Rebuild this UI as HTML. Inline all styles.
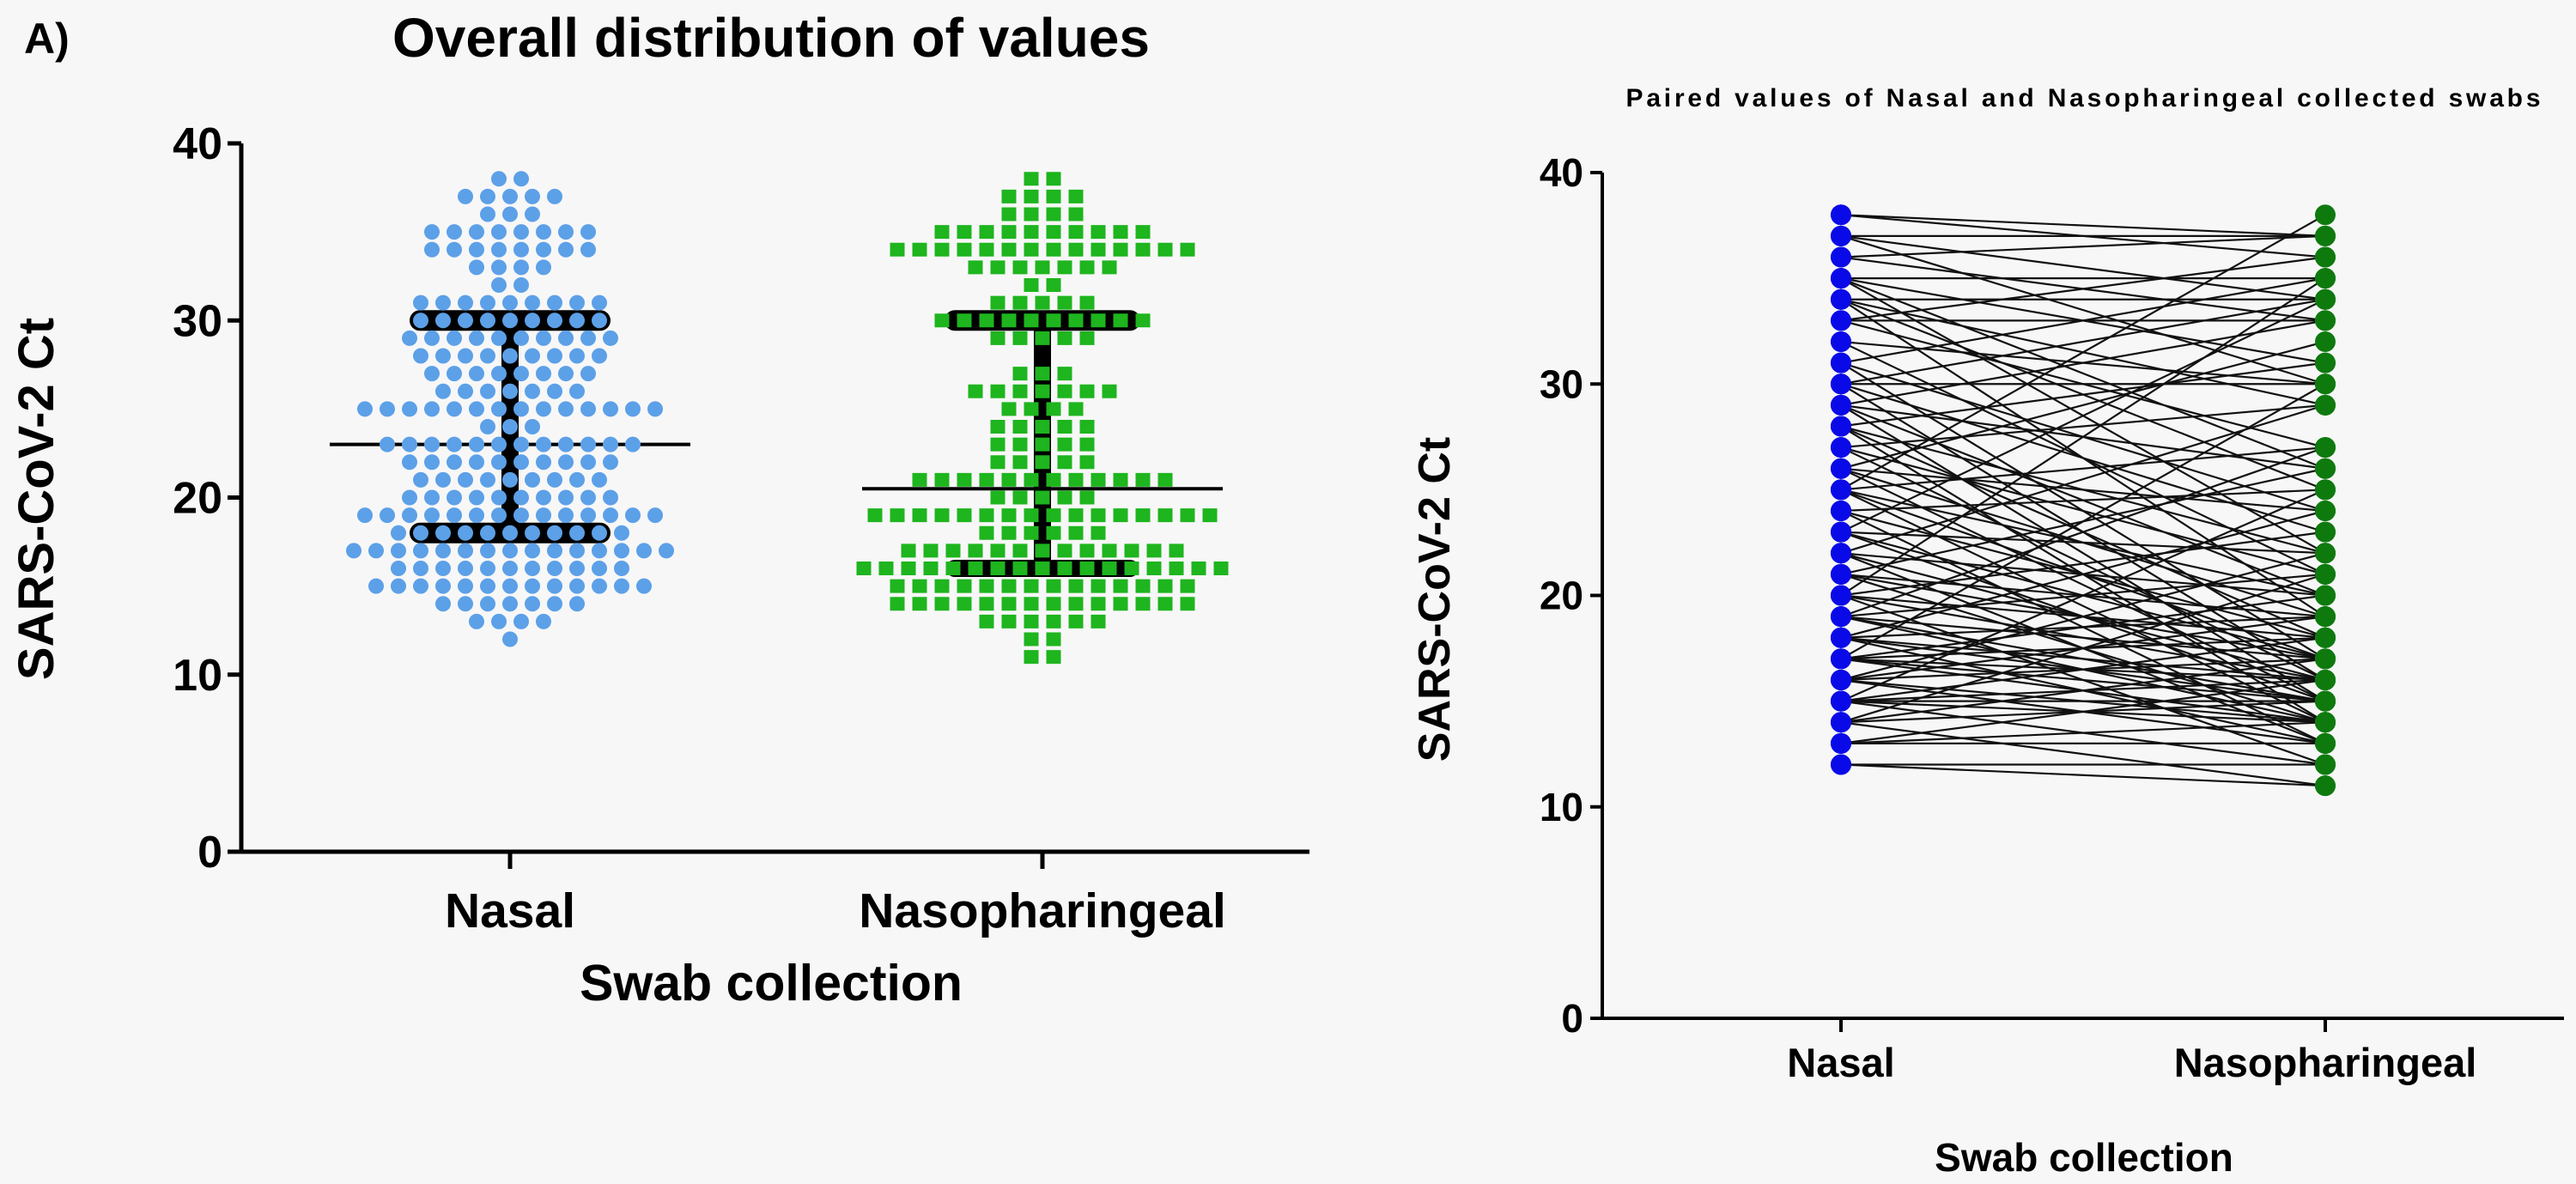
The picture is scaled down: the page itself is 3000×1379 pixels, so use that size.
<!DOCTYPE html>
<html><head><meta charset="utf-8"><style>
html,body{margin:0;padding:0;background:#f7f7f7;}
svg{display:block;font-family:"Liberation Sans",Arial,sans-serif;font-weight:bold;}
</style></head><body>
<svg id="fig" width="3000" height="1379" viewBox="0 0 3000 1379" xmlns="http://www.w3.org/2000/svg">
<rect x="0" y="0" width="3000" height="1379" fill="#f7f7f7"/>
<text x="28" y="62" font-size="50">A)</text>
<text x="898" y="66" font-size="64" text-anchor="middle">Overall distribution of values</text>
<text transform="translate(62,581) rotate(-90)" font-size="58" text-anchor="middle">SARS-CoV-2 Ct</text>
<text x="898" y="1165" font-size="59" text-anchor="middle">Swab collection</text>
<g id="left"></g>
<text x="2426" y="124" font-size="30" text-anchor="middle" textLength="1065" lengthAdjust="spacing">Paired values of Nasal and Nasopharingeal collected swabs</text>
<text transform="translate(1688,698) rotate(-90)" font-size="52" text-anchor="middle">SARS-CoV-2 Ct</text>
<text x="2427" y="1364" font-size="46" text-anchor="middle">Swab collection</text>
<g id="right"></g>
</svg>
<script>
// ---- data ----
const yTicks = [0, 10, 20, 30, 40];
const groups = ["Nasal", "Nasopharingeal"];
const nasalValues = [12,13,14,15,16,17,18,19,20,21,22,23,24,25,26,27,28,29,30,31,32,33,34,35,36,37,38];
const nasalCounts = [1,4,7,13,11,15,11,14,10,9,10,12,3,14,7,8,9,10,9,9,2,4,8,8,3,5,2];
const nasoValues = [11,12,13,14,15,16,17,18,19,20,21,22,23,24,25,26,27,29,30,31,32,33,34,35,36,37,38];
const nasoCounts = [2,2,6,14,14,17,13,6,16,5,12,5,5,5,4,7,3,5,10,5,2,7,14,10,4,4,2];
const nasalStats = [18, 23, 30];   // lower, median, upper
const nasoStats = [16, 20.5, 30];
const pairedNasal = [38,38,37,37,37,36,36,35,35,35,35,34,34,34,34,33,33,33,32,32,31,31,31,30,30,30,30,29,29,29,29,28,28,28,28,27,27,27,26,26,26,26,25,25,25,25,25,24,24,24,23,23,23,23,22,22,22,22,21,21,21,21,20,20,20,20,20,19,19,19,19,19,18,18,18,18,18,17,17,17,17,17,17,16,16,16,16,16,15,15,15,15,15,15,14,14,14,14,13,13,13,12,12];
const pairedNaso  = [37,36,37,34,30,37,33,35,31,26,22,34,29,25,19,36,33,27,30,21,35,24,17,34,30,23,16,33,26,20,15,31,22,18,14,29,21,16,32,24,19,15,38,27,20,17,14,25,18,13,34,22,17,15,29,20,16,13,26,19,17,14,35,23,18,16,12,27,21,17,15,14,24,19,16,15,13,30,20,18,16,15,14,22,19,17,14,13,25,18,16,15,14,12,21,17,15,11,16,14,13,12,11];

const NS = "http://www.w3.org/2000/svg";
function mk(tag, attrs, parent){const e=document.createElementNS(NS,tag);for(const k in attrs)e.setAttribute(k,attrs[k]);parent.appendChild(e);return e;}

// ---- left chart ----
(function(){
  const g = document.getElementById('left');
  const x0=281, x1=1525, yTop=167, yBot=992;
  const y = v => yBot - (v/40)*(yBot-yTop);
  const gx = [594, 1214];
  const ax = mk('path',{d:`M${x0},${yTop} V${yBot} H${x1}`,stroke:'#000','stroke-width':5,fill:'none'},g);
  
  
  yTicks.forEach(t=>{
    const tk=mk('line',{x1:x0-16,x2:x0,y1:y(t),y2:y(t),stroke:'#000','stroke-width':5},g);
    
    
    const tl=mk('text',{x:x0-22,y:y(t)+18,'font-size':52,'text-anchor':'end'},g);
    tl.textContent=t;
    
    
  });
  groups.forEach((name,i)=>{
    const tk=mk('line',{x1:gx[i],x2:gx[i],y1:yBot,y2:yBot+20,stroke:'#000','stroke-width':5},g);
    
    
    const tl=mk('text',{x:gx[i],y:1080,'font-size':57,'text-anchor':'middle'},g);
    tl.textContent=name;
    
    
  });
  function bars(cx, st, capW, lowCapThin){
    const v=mk('line',{x1:cx,x2:cx,y1:y(st[0]),y2:y(st[2]),stroke:'#000','stroke-width':20},g);
    
    
    const c1=mk('line',{x1:cx-capW,x2:cx+capW,y1:y(st[2]),y2:y(st[2]),stroke:'#000','stroke-width':24,'stroke-linecap':'round'},g);
    
    
    const c2=mk('line',{x1:cx-capW,x2:cx+capW,y1:y(st[0]),y2:y(st[0]),stroke:'#000','stroke-width':lowCapThin?20:24,'stroke-linecap':'round'},g);
    
    
    const m=mk('line',{x1:cx-210,x2:cx+210,y1:y(st[1]),y2:y(st[1]),stroke:'#000','stroke-width':4},g);
    
    
  }
  bars(gx[0], nasalStats, 105, false);
  bars(gx[1], nasoStats, 102, true);
  const sp=26;
  nasalValues.forEach((v,j)=>{
    const n=nasalCounts[j];
    for(let k=0;k<n;k++){
      const c=mk('circle',{cx:gx[0]+(k-(n-1)/2)*sp,cy:y(v),r:9,fill:'#5ca0e8'},g);
      
      
    }
  });
  nasoValues.forEach((v,j)=>{
    const n=nasoCounts[j];
    for(let k=0;k<n;k++){
      const s=mk('rect',{x:gx[1]+(k-(n-1)/2)*sp-8.5,y:y(v)-8,width:17,height:16,fill:'#1eb51e'},g);
      
      
    }
  });
})();

// ---- right chart ----
(function(){
  const g=document.getElementById('right');
  const x0=1866, x1=2986, yTop=201, yBot=1186;
  const y = v => yBot - (v/40)*(yBot-yTop);
  const gx=[2144, 2708];
  const ax=mk('path',{d:`M${x0},${yTop} V${yBot} H${x1}`,stroke:'#000','stroke-width':4,fill:'none'},g);
  
  
  yTicks.forEach(t=>{
    const tk=mk('line',{x1:x0-14,x2:x0,y1:y(t),y2:y(t),stroke:'#000','stroke-width':4},g);
    
    
    const tl=mk('text',{x:x0-22,y:y(t)+16,'font-size':46,'text-anchor':'end'},g);
    tl.textContent=t;
    
    
  });
  groups.forEach((name,i)=>{
    const tk=mk('line',{x1:gx[i],x2:gx[i],y1:yBot,y2:yBot+16,stroke:'#000','stroke-width':4},g);
    
    
    const tl=mk('text',{x:gx[i],y:1254,'font-size':47,'text-anchor':'middle'},g);
    tl.textContent=name;
    
    
  });
  pairedNasal.forEach((a,i)=>{
    const b=pairedNaso[i];
    const l=mk('line',{x1:gx[0],y1:y(a),x2:gx[1],y2:y(b),stroke:'#111','stroke-width':2.2},g);
    
    
  });
  pairedNasal.forEach(a=>{
    const c=mk('circle',{cx:gx[0],cy:y(a),r:12,fill:'#0a0ae8'},g);
    
    
  });
  pairedNaso.forEach(b=>{
    const c=mk('circle',{cx:gx[1],cy:y(b),r:12,fill:'#0e7a0e'},g);
    
    
  });
})();
</script>
</body></html>
